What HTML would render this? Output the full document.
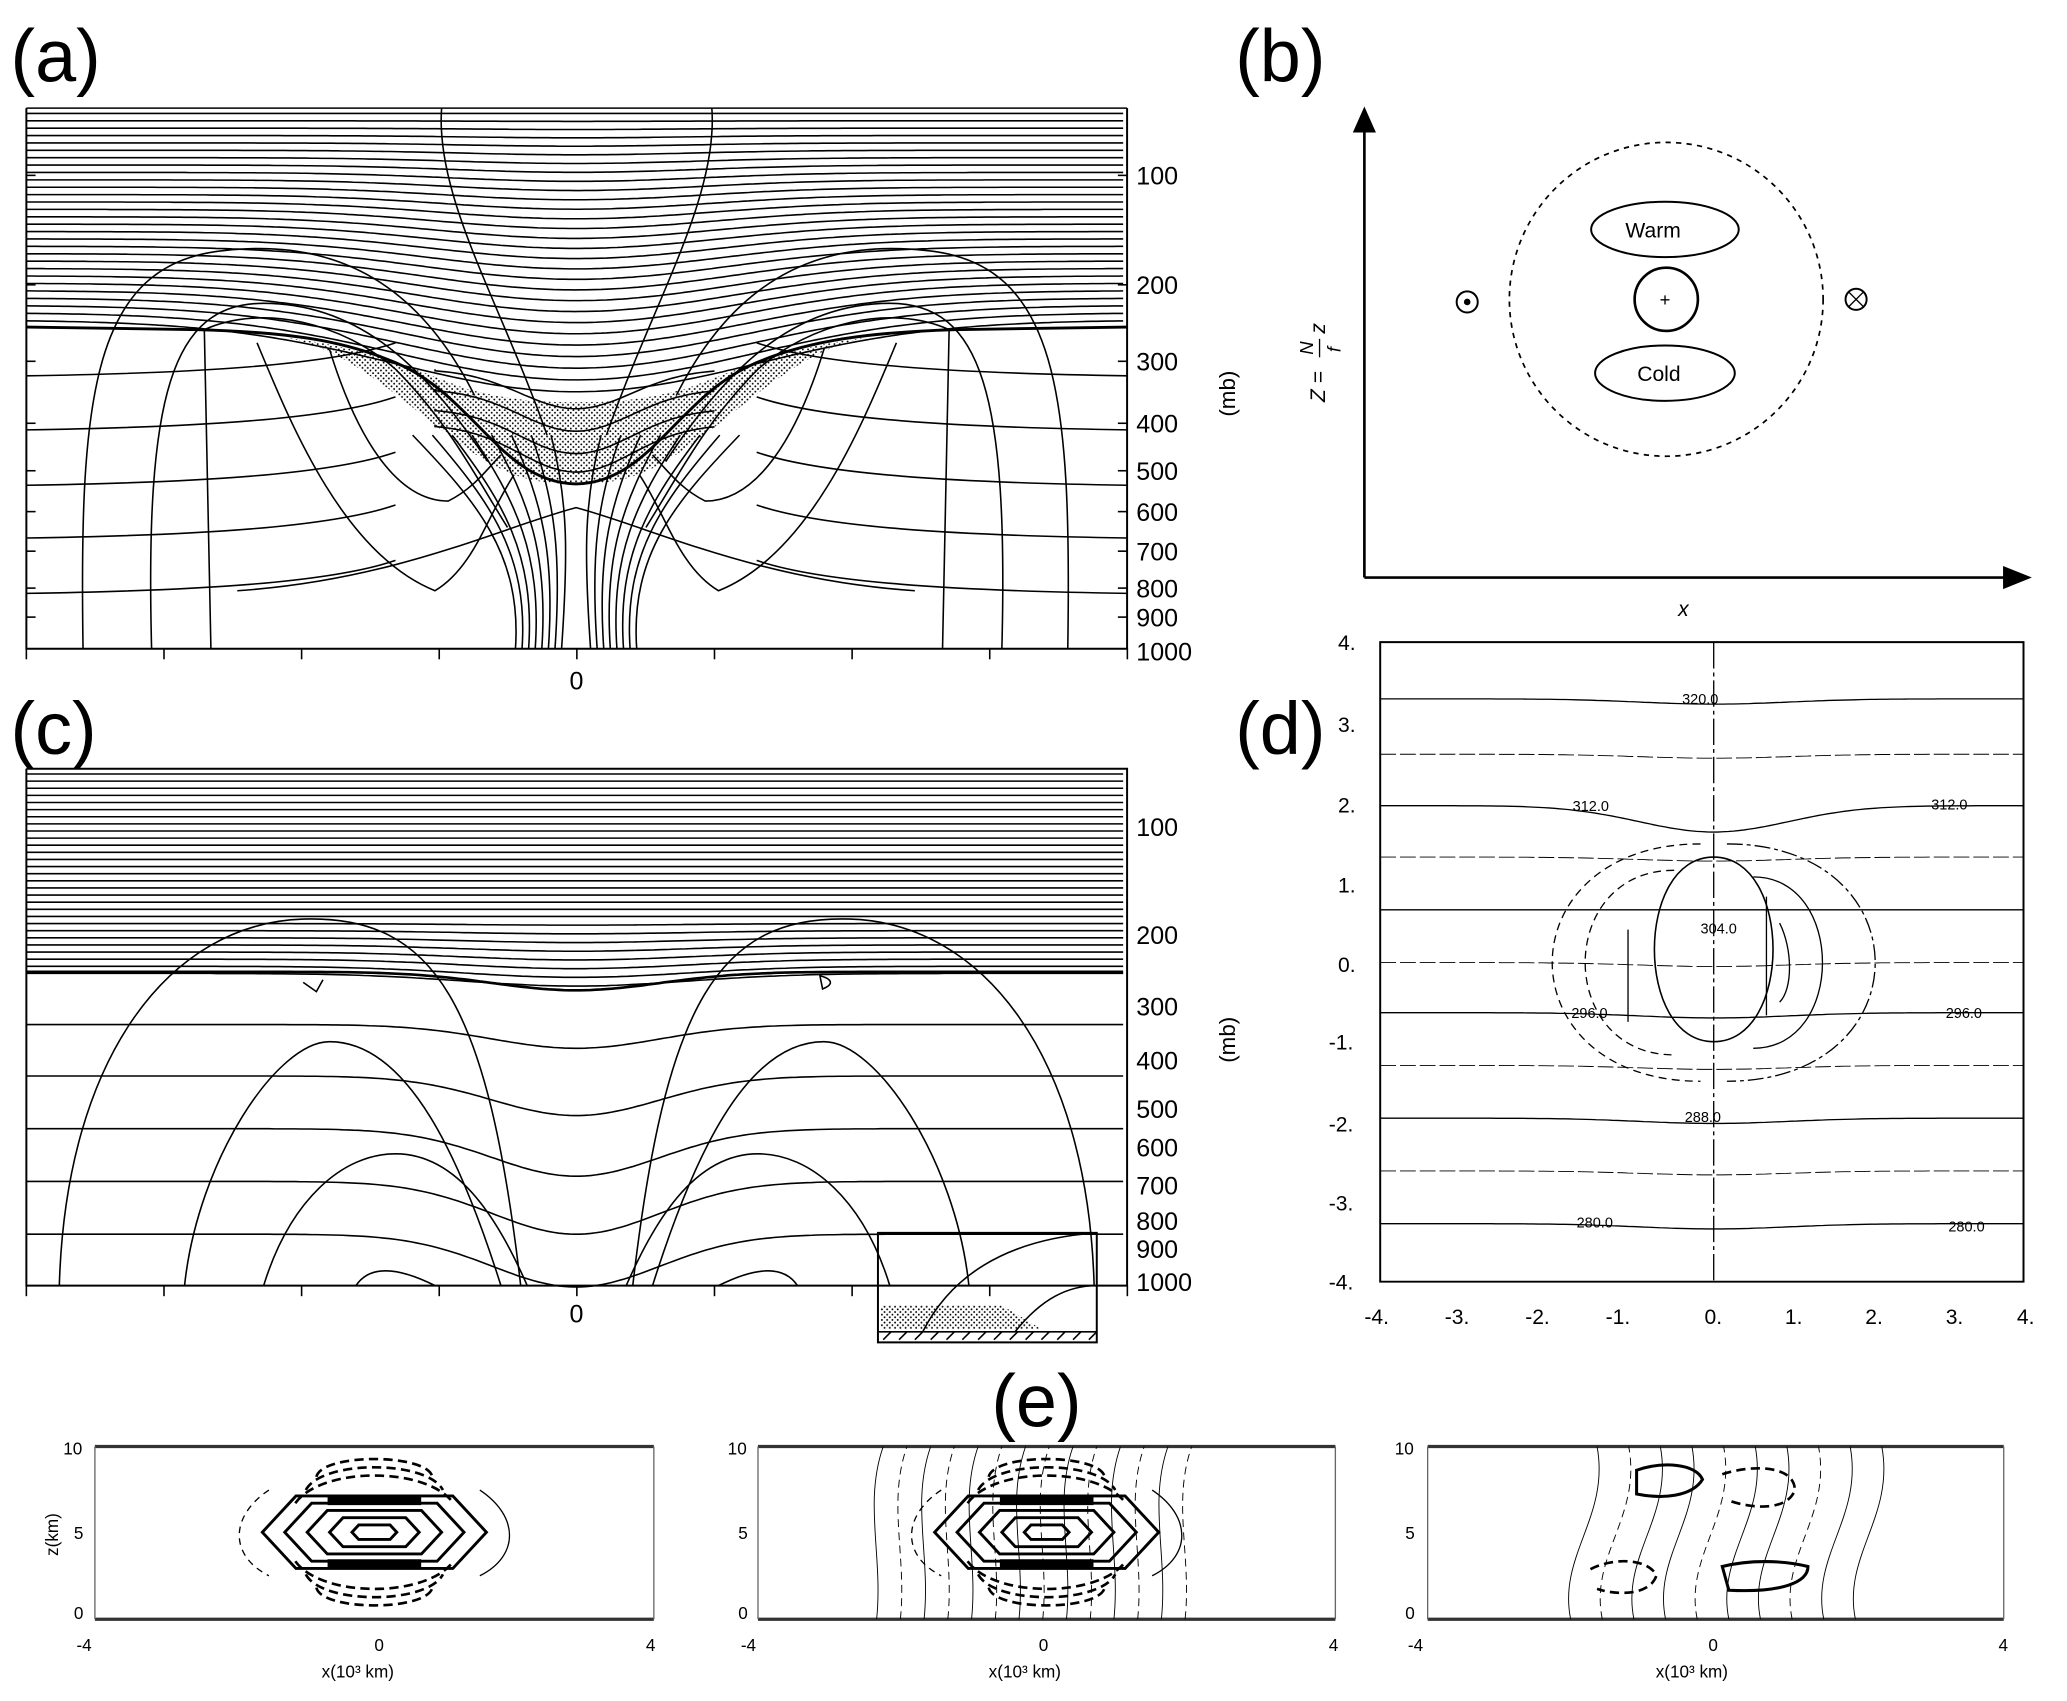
<!DOCTYPE html>
<html><head><meta charset="utf-8"><style>
html,body{margin:0;padding:0;background:#fff;}
svg{display:block;}
text{font-family:"Liberation Sans",sans-serif;fill:#000;}
</style></head><body>
<svg id="s" width="2067" height="1701" viewBox="0 0 1568 1290" preserveAspectRatio="none" xmlns="http://www.w3.org/2000/svg">
<defs>
<pattern id="dots" width="4" height="4" patternUnits="userSpaceOnUse"><circle cx="1" cy="1" r="0.7" fill="#000"/><circle cx="3" cy="3" r="0.7" fill="#000"/></pattern>
</defs>
<g id="A" fill="none" stroke="#000" stroke-width="1.2"></g>
<g id="C" fill="none" stroke="#000" stroke-width="1.2"></g>
<g id="D" fill="none" stroke="#000" stroke-width="1"></g>
<g id="E" fill="none" stroke="#000" stroke-width="1"></g>

<text x="8" y="62" font-size="56">(a)</text>
<text x="937" y="62" font-size="56">(b)</text>
<text x="8" y="572" font-size="56">(c)</text>
<text x="937" y="572" font-size="56">(d)</text>
<text x="752" y="1082" font-size="56">(e)</text>

<g font-size="19">
<text x="862" y="140">100</text><text x="862" y="223">200</text><text x="862" y="281">300</text>
<text x="862" y="328">400</text><text x="862" y="364">500</text><text x="862" y="395">600</text>
<text x="862" y="425">700</text><text x="862" y="453">800</text><text x="862" y="475">900</text>
<text x="862" y="501">1000</text>
<text x="432" y="523">0</text>
<text x="862" y="634">100</text><text x="862" y="716">200</text><text x="862" y="770">300</text>
<text x="862" y="811">400</text><text x="862" y="848">500</text><text x="862" y="877">600</text>
<text x="862" y="906">700</text><text x="862" y="933">800</text><text x="862" y="954">900</text>
<text x="862" y="979">1000</text>
<text x="432" y="1003">0</text>
</g>
<text font-size="17" transform="translate(937,316) rotate(-90)">(mb)</text>
<text font-size="17" transform="translate(937,806) rotate(-90)">(mb)</text>

<g fill="none" stroke="#000">
<line x1="1035" y1="95" x2="1035" y2="438" stroke-width="2"/>
<polygon points="1035,82 1027,100 1043,100" fill="#000"/>
<line x1="1035" y1="438" x2="1525" y2="438" stroke-width="2"/>
<polygon points="1540,438 1520,430 1520,446" fill="#000"/>
<circle cx="1264" cy="227" r="119" stroke-dasharray="4,4" stroke-width="1.3"/>
<ellipse cx="1263" cy="174" rx="56" ry="21" stroke-width="1.5"/>
<ellipse cx="1263" cy="283" rx="53" ry="21" stroke-width="1.5"/>
<circle cx="1264" cy="227" r="24" stroke-width="2"/>
<circle cx="1113" cy="229" r="8" stroke-width="1.5"/><circle cx="1113" cy="229" r="2" fill="#000"/>
<circle cx="1408" cy="227" r="8" stroke-width="1.5"/>
<line x1="1402" y1="221" x2="1414" y2="233"/><line x1="1414" y1="221" x2="1402" y2="233"/>
</g>
<text x="1233" y="180" font-size="16">Warm</text>
<text x="1242" y="289" font-size="16">Cold</text>
<text x="1259" y="232" font-size="14">+</text>
<text x="1273" y="467" font-size="16" font-style="italic">x</text>
<g transform="translate(1005,305) rotate(-90)" font-size="16" font-style="italic">
<text x="0" y="0">Z =</text><text x="36" y="-9" font-size="14">N</text><line x1="34" y1="-4" x2="48" y2="-4" stroke="#000"/><text x="38" y="12" font-size="14">f</text><text x="52" y="0">z</text>
</g>

<g font-size="16" fill="#444">
<text x="1015" y="493">4.</text><text x="1015" y="555">3.</text><text x="1015" y="616">2.</text>
<text x="1015" y="677">1.</text><text x="1015" y="737">0.</text><text x="1008" y="796">-1.</text>
<text x="1008" y="858">-2.</text><text x="1008" y="918">-3.</text><text x="1008" y="978">-4.</text>
<text x="1035" y="1004">-4.</text><text x="1096" y="1004">-3.</text><text x="1157" y="1004">-2.</text>
<text x="1218" y="1004">-1.</text><text x="1293" y="1004">0.</text><text x="1354" y="1004">1.</text>
<text x="1415" y="1004">2.</text><text x="1476" y="1004">3.</text><text x="1530" y="1004">4.</text>
</g>
<g font-size="11" fill="#222">
<text x="1276" y="534">320.0</text><text x="1193" y="615">312.0</text><text x="1465" y="614">312.0</text>
<text x="1290" y="708">304.0</text><text x="1192" y="772">296.0</text><text x="1476" y="772">296.0</text>
<text x="1278" y="851">288.0</text><text x="1196" y="931">280.0</text><text x="1478" y="934">280.0</text>
</g>

<g font-size="13" fill="#333">
<text x="48" y="1103">10</text><text x="56" y="1167">5</text><text x="56" y="1228">0</text>
<text x="58" y="1252">-4</text><text x="284" y="1252">0</text><text x="490" y="1252">4</text>
<text x="244" y="1272">x(10³ km)</text>
<text x="552" y="1103">10</text><text x="560" y="1167">5</text><text x="560" y="1228">0</text>
<text x="562" y="1252">-4</text><text x="788" y="1252">0</text><text x="1008" y="1252">4</text>
<text x="750" y="1272">x(10³ km)</text>
<text x="1058" y="1103">10</text><text x="1066" y="1167">5</text><text x="1066" y="1228">0</text>
<text x="1068" y="1252">-4</text><text x="1296" y="1252">0</text><text x="1516" y="1252">4</text>
<text x="1256" y="1272">x(10³ km)</text>
</g>
<text font-size="13" transform="translate(44,1180) rotate(-90)">z(km)</text>
</svg>
<script>
var NS="http://www.w3.org/2000/svg";
function P(g,d,extra){var p=document.createElementNS(NS,"path");p.setAttribute("d",d);if(extra)for(var k in extra)p.setAttribute(k,extra[k]);document.getElementById(g).appendChild(p);return p;}
function dip(x0,x1,y,cx,w,d){var s="M"+x0+" "+y;for(var x=x0;x<=x1;x+=4){var t=(x-cx)/w;s+=" L"+x+" "+(y+d*Math.exp(-t*t)).toFixed(1);}return s;}
// panel a
P("A","M20 82 V492 H855 V82",{"stroke-width":1.5});
P("A","M20 82 H855");
for(var i=0;i<=8;i++){var x=20+i*104.4;P("A","M"+x+" 492 V500");}
[133,216,274,321,357,388,418,446,468].forEach(function(y){P("A","M848 "+y+" H855");P("A","M20 "+y+" H27");});
for(var i=0;i<29;i++){var y=86+i*5.6;var d=i*i*0.055+i*0.4;P("A",dip(20,855,y,437,110+i*3,d));}
var trop="M20 248 L150 250 C220 252 260 258 300 275 C360 300 380 366 437 367 C494 366 514 300 574 275 C614 258 660 252 724 250 L855 248";
P("A",trop,{"stroke-width":2.2});
P("A","M215 256 C260 262 300 300 340 330 C380 360 400 367 437 367 C474 367 494 360 534 330 C574 300 614 262 659 256 C600 262 560 280 520 295 C480 305 460 305 437 305 C414 305 394 305 354 295 C314 280 274 262 215 256Z",{"fill":"url(#dots)","stroke":"none"});
[310,325,340,352].forEach(function(y,k){P("A",dip(330,544,y-30,437,60,30+k*2));});
[[285,250],[326,230],[368,220],[408,200],[450,180]].forEach(function(a){var y=a[0];P("A","M20 "+y+" C150 "+(y-2)+" 250 "+(y-8)+" 300 "+(y-25)+" M574 "+(y-25)+" C624 "+(y-8)+" 724 "+(y-2)+" 855 "+y);});
P("A","M180 448 C300 440 380 400 437 385 C494 400 574 440 694 448");
P("A","M63 492 C60 300 70 200 170 190 C260 180 320 220 360 300");
P("A","M810 492 C813 300 803 200 703 190 C613 180 553 220 513 300");
P("A","M115 492 C110 300 130 230 200 230 C280 230 330 290 370 350");
P("A","M760 492 C765 300 745 230 675 230 C595 230 545 290 505 350");
P("A","M160 492 L155 250 C200 230 260 245 300 280 C340 320 360 360 385 400");
P("A","M715 492 L720 250 C675 230 615 245 575 280 C535 320 515 360 490 400");
P("A","M195 260 C220 320 260 420 330 448 C360 430 370 390 390 360");
P("A","M680 260 C655 320 615 420 545 448 C515 430 505 390 485 360");
P("A","M250 265 C270 330 300 380 340 380 C360 370 370 355 380 345");
P("A","M625 265 C605 330 575 380 535 380 C515 370 505 355 495 345");
P("A","M335 82 C330 150 380 230 415 330");P("A","M540 82 C545 150 495 230 460 330");
for(var k=0;k<8;k++){var o=k*5+3;P("A","M"+(437-o-8)+" 492 C"+(437-o-3)+" 420 "+(437-o*2)+" 380 "+(437-o*3-10)+" 330");P("A","M"+(437+o+8)+" 492 C"+(437+o+3)+" 420 "+(437+o*2)+" 380 "+(437+o*3+10)+" 330");}
// panel c
P("C","M20 583 V975 H855 V583 H20",{"stroke-width":1.5});
for(var i=0;i<=8;i++){var x=20+i*104.4;P("C","M"+x+" 975 V983");}
for(var i=0;i<29;i++){var y=587+i*5.4;P("C",dip(20,855,y,437,120,i>20?(i-20)*1.2:0));}
P("C",dip(20,855,737,437,90,14),{"stroke-width":2});
[[777,18],[816,30],[856,36],[896,40],[936,40]].forEach(function(a){P("C",dip(20,855,a[0],437,90,a[1]));});
P("C","M45 975 C50 800 130 700 230 697 C330 694 370 760 395 975");
P("C","M480 975 C505 760 545 694 645 697 C745 700 825 800 830 975");
P("C","M140 975 C150 880 210 790 250 790 C310 790 350 880 380 975");
P("C","M495 975 C525 880 565 790 625 790 C665 790 725 880 735 975");
P("C","M200 975 C220 910 260 875 300 875 C350 875 380 930 400 975");
P("C","M475 975 C495 930 525 875 575 875 C615 875 655 910 675 975");
P("C","M270 975 C280 960 300 960 330 975");P("C","M545 975 C575 960 595 960 605 975");
P("C","M230 745 L240 752 L245 743");P("C","M622 740 C630 742 634 746 624 750 Z");
P("C","M666 935 H832 V1018 H666 Z",{"stroke-width":1.5});
P("C","M666 1010 H832");P("C","M700 1010 C720 970 760 940 832 935");P("C","M770 1010 C790 985 810 975 832 975");
P("C","M668 990 H760 L790 1008 H668 Z",{"fill":"url(#dots)","stroke":"none"});
for(var x=670;x<832;x+=12)P("C","M"+x+" 1016 L"+(x+6)+" 1010");
// panel d
P("D","M1047 487 V972 H1535 V487 Z",{"stroke-width":1.5});
[530,611,690,768,848,928].forEach(function(y,k){P("D",dip(1047,1535,y,1300,80,k==1?20:(k==2?0:4)));});
[572,650,730,808,888].forEach(function(y){P("D",dip(1047,1535,y,1300,80,3),{"stroke-width":0.7,"stroke-dasharray":"12,3"});});
P("D","M1300 487 V972",{"stroke-dasharray":"20,3,3,3"});
P("D","M1300 650 C1360 650 1360 790 1300 790 C1240 790 1240 650 1300 650",{"stroke-width":1.2});
P("D","M1290 640 C1140 640 1140 820 1290 820",{"stroke-dasharray":"6,4"});
P("D","M1270 660 C1180 660 1180 800 1270 800",{"stroke-dasharray":"6,4"});
P("D","M1310 640 C1460 640 1460 820 1310 820",{"stroke-dasharray":"12,3,3,3"});
P("D","M1330 665 C1400 665 1400 795 1330 795");
P("D","M1235 705 V775 M1340 680 V770 M1350 700 C1360 720 1360 750 1350 760");
// panel e
[[72,496],[575,1013],[1083,1520]].forEach(function(b,n){var x0=b[0],x1=b[1];
P("E","M"+x0+" 1097 H"+x1+" M"+x0+" 1228 H"+x1,{"stroke-width":2.5,"stroke":"#333"});
P("E","M"+x0+" 1097 V1228 M"+x1+" 1097 V1228",{"stroke-width":1,"stroke":"#666"});
var cx=(x0+x1)/2;
if(n<2){
 for(var r=1;r<=5;r++){var rx=r*17,ry=r*5.5;P("E","M"+(cx-rx)+" 1162 L"+(cx-rx*0.7)+" "+(1162-ry)+" L"+(cx+rx*0.7)+" "+(1162-ry)+" L"+(cx+rx)+" 1162 L"+(cx+rx*0.7)+" "+(1162+ry)+" L"+(cx-rx*0.7)+" "+(1162+ry)+"Z",{"stroke-width":2.2});}
 P("E","M"+(cx-35)+" 1135 h70 v6 h-70z M"+(cx-35)+" 1183 h70 v6 h-70z",{"fill":"#000"});
 for(var r=0;r<3;r++){P("E","M"+(cx-60+r*8)+" "+(1140-r*10)+" C"+(cx-40)+" "+(1112-r*5)+" "+(cx+40)+" "+(1112-r*5)+" "+(cx+60-r*8)+" "+(1140-r*10),{"stroke-dasharray":"7,4","stroke-width":2});
 P("E","M"+(cx-60+r*8)+" "+(1184+r*10)+" C"+(cx-40)+" "+(1212+r*5)+" "+(cx+40)+" "+(1212+r*5)+" "+(cx+60-r*8)+" "+(1184+r*10),{"stroke-dasharray":"7,4","stroke-width":2});}
 P("E","M"+(cx-80)+" 1130 C"+(cx-110)+" 1150 "+(cx-110)+" 1180 "+(cx-80)+" 1195",{"stroke-dasharray":"5,4"});
 P("E","M"+(cx+80)+" 1130 C"+(cx+110)+" 1150 "+(cx+110)+" 1180 "+(cx+80)+" 1195");
 if(n==1){for(var k=0;k<14;k++){var x=x0+90+k*18;P("E","M"+x+" 1228 C"+(x+5)+" 1180 "+(x-10)+" 1140 "+(x+5)+" 1097",{"stroke-width":0.7,"stroke-dasharray":k%2?"6,4":"none"});}}
}else{
 P("E","M"+(cx-60)+" 1115 C"+(cx-40)+" 1108 "+(cx-15)+" 1110 "+(cx-10)+" 1122 C"+(cx-18)+" 1135 "+(cx-40)+" 1137 "+(cx-60)+" 1133 Z",{"stroke-width":2.3});
 P("E","M"+(cx+5)+" 1188 C"+(cx+25)+" 1183 "+(cx+50)+" 1183 "+(cx+70)+" 1188 C"+(cx+70)+" 1200 "+(cx+50)+" 1208 "+(cx+10)+" 1206 Z",{"stroke-width":2.3});
 P("E","M"+(cx+5)+" 1118 C"+(cx+30)+" 1110 "+(cx+60)+" 1112 "+(cx+60)+" 1130 C"+(cx+55)+" 1145 "+(cx+30)+" 1145 "+(cx+10)+" 1138",{"stroke-width":2,"stroke-dasharray":"7,4"});
 P("E","M"+(cx-95)+" 1190 C"+(cx-75)+" 1180 "+(cx-50)+" 1183 "+(cx-45)+" 1195 C"+(cx-50)+" 1210 "+(cx-75)+" 1210 "+(cx-90)+" 1205",{"stroke-width":2,"stroke-dasharray":"7,4"});
 for(var k=0;k<10;k++){var x=cx-110+k*24;P("E","M"+x+" 1228 C"+(x-10)+" 1180 "+(x+30)+" 1150 "+(x+20)+" 1097",{"stroke-width":0.7,"stroke-dasharray":k%3==1?"6,4":"none"});}
}
});
</script>
</body></html>
